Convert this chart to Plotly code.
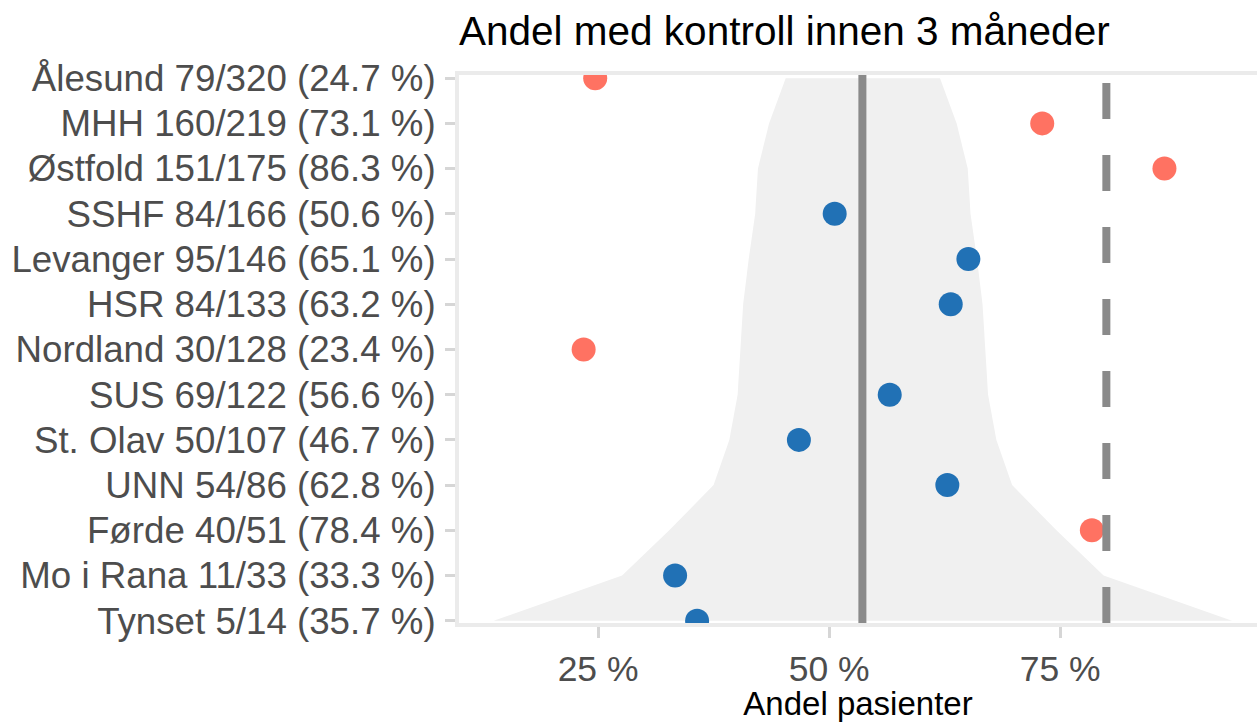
import plotly.graph_objects as go

# ---- data ----
hospitals = ["Ålesund", "MHH", "Østfold", "SSHF", "Levanger", "HSR", "Nordland",
             "SUS", "St. Olav", "UNN", "Førde", "Mo i Rana", "Tynset"]
numerators = [79, 160, 151, 84, 95, 84, 30, 69, 50, 54, 40, 11, 5]
denominators = [320, 219, 175, 166, 146, 133, 128, 122, 107, 86, 51, 33, 14]
# funnel (control-limit) band, in percent, read per hospital row
funnel_lower = [45.3, 43.5, 42.3, 42.0, 41.3, 40.7, 40.4, 40.1, 39.2, 37.5, 32.7, 27.6, 13.7]
funnel_upper = [62.0, 63.8, 65.0, 65.3, 66.0, 66.6, 66.9, 67.2, 68.1, 69.8, 74.6, 79.7, 93.6]
overall_pct = 53.6
target_pct = 80.0
x_ticks = [25, 50, 75]

title_text = "Andel med kontroll innen 3 måneder"
x_title = "Andel pasienter"

# ---- derived ----
pct = [100.0 * n / d for n, d in zip(numerators, denominators)]
labels = [f"{h} {n}/{d} ({p:.1f} %)" for h, n, d, p in zip(hospitals, numerators, denominators, pct)]
colors = ["#FF7262" if (p < lo or p > hi) else "#2171B5"
          for p, lo, hi in zip(pct, funnel_lower, funnel_upper)]

FONT = "Liberation Sans, Arial, sans-serif"

fig = go.Figure()

# funnel band
fig.add_trace(go.Scatter(
    x=funnel_lower + funnel_upper[::-1],
    y=labels + labels[::-1],
    fill="toself", fillcolor="#F0F0F0",
    line=dict(width=0), mode="lines", hoverinfo="skip", showlegend=False,
))

# points
fig.add_trace(go.Scatter(
    x=pct, y=labels, mode="markers",
    marker=dict(size=24, color=colors, line=dict(width=0)),
    showlegend=False, cliponaxis=True,
))

# overall line (solid) and target line (dashed)
fig.add_shape(type="line", xref="x", yref="paper", x0=overall_pct, x1=overall_pct, y0=0, y1=1,
              line=dict(color="#8A8A8A", width=8), layer="above")
fig.add_shape(type="line", xref="x", yref="paper", x0=target_pct, x1=target_pct, y0=0, y1=1,
              line=dict(color="#8A8A8A", width=8, dash="36px,36px"), layer="above")

n = len(labels)
fig.update_layout(
    width=1257, height=722,
    margin=dict(l=459, r=0, t=75, b=99, autoexpand=False),
    paper_bgcolor="white", plot_bgcolor="white",
    font=dict(family=FONT, color="#4D4D4D"),
    title=dict(text=title_text, font=dict(size=40.5, color="black", family=FONT),
               xref="paper", x=0.0, xanchor="left", yref="container", y=1 - 31 / 722, yanchor="middle"),
    showlegend=False,
)
fig.update_xaxes(
    range=[9.95, 96.3], showgrid=False, zeroline=False, automargin=False,
    tickvals=x_ticks, ticktext=[f"{t} %" for t in x_ticks],
    tickfont=dict(size=35.5, color="#4D4D4D"),
    ticks="outside", ticklen=11, tickwidth=3, tickcolor="#D6D6D6",
    showline=True, linecolor="#EBEBEB", linewidth=4, mirror=True,
    ticklabelstandoff=0,
    title=dict(text=x_title, font=dict(size=33, color="black"), standoff=6),
)
fig.update_yaxes(
    type="category", categoryorder="array", categoryarray=labels, automargin=False,
    range=[n - 1 + 0.05, -0.07], showgrid=False, zeroline=False,
    tickfont=dict(size=36.7, color="#4D4D4D"),
    ticks="outside", ticklen=10, tickwidth=3, tickcolor="#D6D6D6",
    showline=True, linecolor="#EBEBEB", linewidth=4,
    ticklabelstandoff=2,
)

fig.write_html("out.html", config={"displayModeBar": False},
               post_script="document.body.style.margin='0';document.body.style.overflow='hidden';")
